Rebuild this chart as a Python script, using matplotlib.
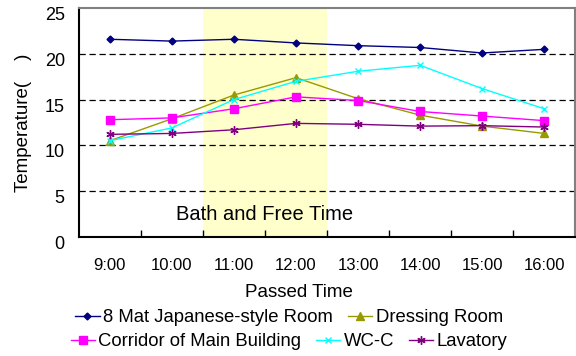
import matplotlib.pyplot as plt
import matplotlib.transforms as mtransforms

plt.rcParams['font.family'] = ['Liberation Sans', 'DejaVu Sans']

times = ['9:00', '10:00', '11:00', '12:00', '13:00', '14:00', '15:00', '16:00']
mat_room = [21.6, 21.4, 21.6, 21.2, 20.9, 20.7, 20.1, 20.5]
dressing = [10.5, 12.9, 15.5, 17.4, 15.1, 13.3, 12.1, 11.3]
corridor = [12.8, 13.0, 14.0, 15.3, 14.9, 13.7, 13.2, 12.7]
wc_c = [10.5, 11.9, 15.0, 17.0, 18.1, 18.75, 16.2, 14.0]
lavatory = [11.2, 11.3, 11.7, 12.4, 12.3, 12.1, 12.15, 12.0]

fig = plt.figure(figsize=(5.76, 3.56), dpi=100)
ax = fig.add_axes([0.1366, 0.335, 0.8622, 0.642])

x = list(range(len(times)))

# shaded period
ax.axvspan(1.5, 3.5, color='#FFFFCC', zorder=0, lw=0)
ax.text(2.5, 2.4, 'Bath and Free Time', ha='center', va='center', fontsize=14.5)

for yv in [5, 10, 15, 20]:
    ax.axhline(yv, color='black', ls=(0, (5, 3)), lw=0.9, zorder=1)

series = [
    ('8 Mat Japanese-style Room', mat_room, '#000080', 'D', 3.5),
    ('Dressing Room', dressing, '#999900', '^', 5.5),
    ('Corridor of Main Building', corridor, '#FF00FF', 's', 5.5),
    ('WC-C', wc_c, '#00FFFF', 'x', 5),
    ('Lavatory', lavatory, '#800080', (6, 2, 0), 6),
]
handles = []
for name, vals, col, mk, ms in series:
    h, = ax.plot(x, vals, color=col, marker=mk, markersize=ms, lw=1,
                 markeredgewidth=1, zorder=3, label=name)
    handles.append(h)

ax.set_xlim(-0.5, 7.5)
ax.set_ylim(0, 25)
ax.set_yticks([0, 5, 10, 15, 20, 25])
ax.set_xticks(x)
ax.set_xticklabels(times)
ax.set_xticks([i + 0.5 for i in range(7)], minor=True)
ax.tick_params(axis='x', which='major', length=0, pad=15, labelsize=12)
ax.tick_params(axis='x', which='minor', direction='in', length=5, width=1)
ax.tick_params(axis='y', length=0, pad=10, labelsize=13)
# excel-like small downward shift of y tick labels
shift = mtransforms.ScaledTranslation(0, -4 / 72, fig.dpi_scale_trans)
for lab in ax.get_yticklabels():
    lab.set_transform(lab.get_transform() + shift)

for s in ['top', 'right']:
    ax.spines[s].set_color('#808080')
    ax.spines[s].set_linewidth(1.5)
for s in ['left', 'bottom']:
    ax.spines[s].set_color('black')
    ax.spines[s].set_linewidth(1.5)

ax.set_ylabel('Temperature(    )', fontsize=13.5)
ax.yaxis.set_label_coords(-0.094, 0.5)
ax.set_xlabel('Passed Time', fontsize=13.5)
ax.xaxis.set_label_coords(0.444, -0.205)

leg_kw = dict(frameon=False, fontsize=13.3, handlelength=1.3, handletextpad=0.2,
              columnspacing=0.8, borderaxespad=0, borderpad=0)
fig.legend(handles=handles[:2], ncol=2, loc='center',
           bbox_to_anchor=(0.502, 0.108), **leg_kw)
fig.legend(handles=handles[2:], ncol=3, loc='center',
           bbox_to_anchor=(0.502, 0.04), **leg_kw)

plt.savefig('out.png', dpi=100)
